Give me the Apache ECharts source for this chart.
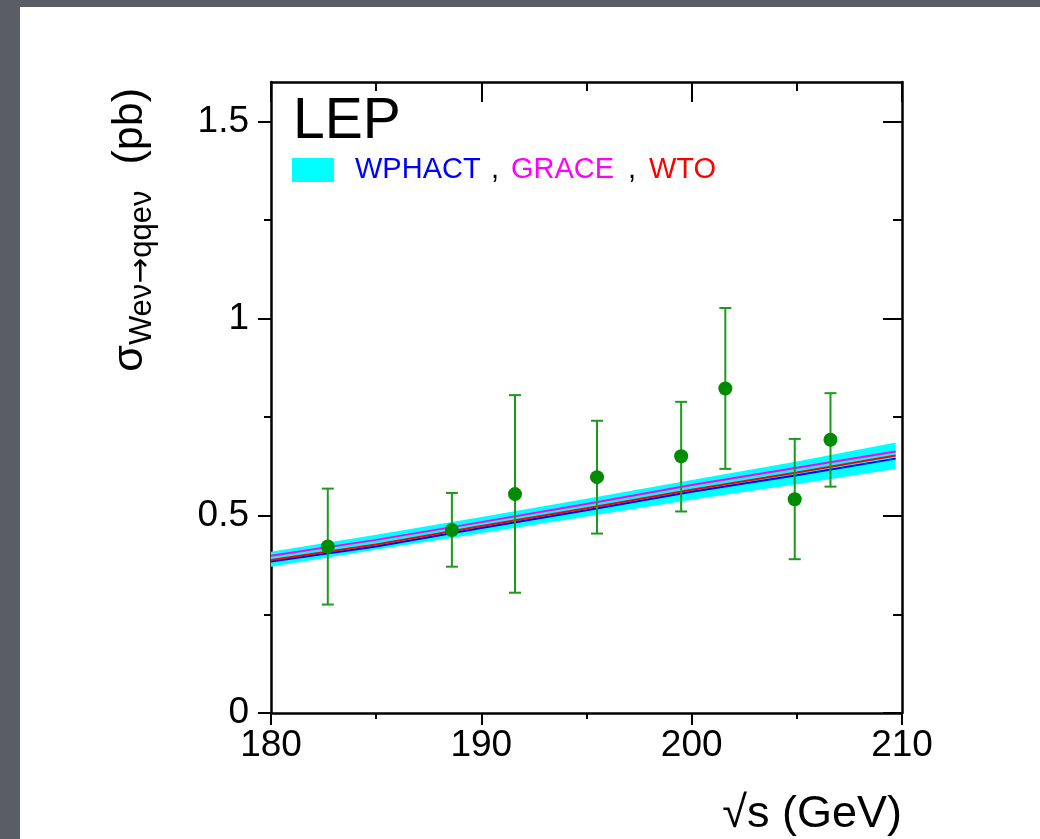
<!DOCTYPE html>
<html>
<head>
<meta charset="utf-8">
<script src="https://cdn.jsdelivr.net/npm/echarts@6/dist/echarts.min.js"></script>
<style>
  html, body { margin: 0; padding: 0; width: 1040px; height: 839px; overflow: hidden; background: #595d66; }
  #chart { position: absolute; left: 20px; top: 7px; width: 1020px; height: 832px; }
</style>
</head>
<body>
<div id="chart"></div>
<script>
// ---- data ----
const xTicks = [180, 190, 200, 210];
const yMajorTicks = [0, 0.5, 1, 1.5];
const yMinorTicks = [0.25, 0.75, 1.25];

// measured points (sqrt(s) in GeV, cross section in pb)
const dataEnergy = [182.7, 188.6, 191.6, 195.5, 199.5, 201.6, 204.9, 206.6];
const dataValue  = [0.422, 0.464, 0.555, 0.598, 0.651, 0.823, 0.542, 0.693];
const dataHigh   = [0.569, 0.558, 0.806, 0.741, 0.789, 1.027, 0.695, 0.811];
const dataLow    = [0.275, 0.371, 0.305, 0.455, 0.511, 0.619, 0.390, 0.574];

// theory predictions
const theoryEnergy = [180, 185, 190, 195, 200, 205, 209.7];
const bandHigh     = [0.409, 0.452, 0.497, 0.543, 0.591, 0.638, 0.686];
const bandLow      = [0.371, 0.414, 0.456, 0.498, 0.541, 0.580, 0.619];
const wphact       = [0.384, 0.422, 0.469, 0.514, 0.561, 0.603, 0.645];
const wto          = [0.388, 0.427, 0.474, 0.519, 0.566, 0.610, 0.653];
const grace        = [0.399, 0.439, 0.484, 0.530, 0.578, 0.622, 0.663];

// ---- chart ----
const FONT = 'Liberation Sans, Arial, Helvetica, sans-serif';
const chart = echarts.init(document.getElementById('chart'), null, { renderer: 'canvas' });

const pairs = (xs, ys) => xs.map((x, i) => [x, ys[i]]);
const lineBase = { color: '#000', width: 2.5 };
const tickStyle = { color: '#000', width: 2 };

const xCommon = { type: 'value', min: 180, max: 210, interval: 10, splitLine: { show: false } };
const yCommon = { type: 'value', min: 0, max: 1.6, splitLine: { show: false } };

const option = {
  backgroundColor: '#ffffff',
  animation: false,
  grid: { left: 251, right: 138, top: 75, bottom: 126, containLabel: false },
  xAxis: [
    Object.assign({}, xCommon, {
      position: 'bottom',
      axisLine: { show: true, onZero: false, lineStyle: lineBase },
      axisTick: { show: true, inside: false, length: 12, lineStyle: tickStyle },
      minorTick: { show: true, splitNumber: 2, length: 6, lineStyle: tickStyle },
      axisLabel: { show: true, margin: 14, fontFamily: FONT, fontSize: 37, color: '#000',
                   formatter: v => String(v) }
    }),
    Object.assign({}, xCommon, {
      position: 'top',
      axisLine: { show: true, onZero: false, lineStyle: lineBase },
      axisTick: { show: true, inside: true, length: 20, lineStyle: tickStyle },
      minorTick: { show: true, splitNumber: 2, length: 9, lineStyle: tickStyle },
      axisLabel: { show: false }
    })
  ],
  yAxis: [
    Object.assign({}, yCommon, {
      position: 'left',
      axisLine: { show: true, onZero: false, lineStyle: lineBase },
      axisTick: { show: true, inside: false, length: 13, customValues: yMajorTicks, lineStyle: tickStyle },
      axisLabel: { show: true, margin: 22, customValues: yMajorTicks, fontFamily: FONT, fontSize: 37, color: '#000' }
    }),
    Object.assign({}, yCommon, {
      position: 'left',
      axisLine: { show: false, onZero: false },
      axisTick: { show: true, inside: false, length: 7, customValues: yMinorTicks, lineStyle: tickStyle },
      axisLabel: { show: false }
    }),
    Object.assign({}, yCommon, {
      position: 'right',
      axisLine: { show: true, onZero: false, lineStyle: lineBase },
      axisTick: { show: true, inside: true, length: 19, customValues: yMajorTicks, lineStyle: tickStyle },
      axisLabel: { show: false }
    }),
    Object.assign({}, yCommon, {
      position: 'right',
      axisLine: { show: false, onZero: false },
      axisTick: { show: true, inside: true, length: 9, customValues: yMinorTicks, lineStyle: tickStyle },
      axisLabel: { show: false }
    })
  ],
  series: [
    {
      name: 'band',
      type: 'custom',
      xAxisIndex: 0, yAxisIndex: 0,
      z: 1,
      silent: true,
      data: [[theoryEnergy[0], bandLow[0]]],
      renderItem: function (params, api) {
        const pts = [];
        for (let i = 0; i < theoryEnergy.length; i++) pts.push(api.coord([theoryEnergy[i], bandHigh[i]]));
        for (let i = theoryEnergy.length - 1; i >= 0; i--) pts.push(api.coord([theoryEnergy[i], bandLow[i]]));
        return { type: 'polygon', shape: { points: pts }, style: { fill: '#00ffff', stroke: null } };
      }
    },
    { name: 'WPHACT', type: 'line', z: 2, data: pairs(theoryEnergy, wphact), showSymbol: false, symbol: 'none',
      lineStyle: { color: '#0000ff', width: 2 } },
    { name: 'WTO', type: 'line', z: 3, data: pairs(theoryEnergy, wto), showSymbol: false, symbol: 'none',
      lineStyle: { color: '#ff0000', width: 2 } },
    { name: 'GRACE', type: 'line', z: 3, data: pairs(theoryEnergy, grace), showSymbol: false, symbol: 'none',
      lineStyle: { color: '#ff00ff', width: 2 } },
    {
      name: 'errors',
      type: 'custom',
      z: 4,
      data: dataEnergy.map((e, i) => [e, dataLow[i], dataHigh[i]]),
      encode: { x: 0, y: [1, 2] },
      renderItem: function (params, api) {
        const x = api.value(0);
        const lo = api.coord([x, api.value(1)]);
        const hi = api.coord([x, api.value(2)]);
        const hw = 6;
        const st = { stroke: '#1c9a1c', lineWidth: 2 };
        return {
          type: 'group',
          children: [
            { type: 'line', shape: { x1: lo[0], y1: lo[1], x2: hi[0], y2: hi[1] }, style: st },
            { type: 'line', shape: { x1: lo[0] - hw, y1: lo[1], x2: lo[0] + hw, y2: lo[1] }, style: st },
            { type: 'line', shape: { x1: hi[0] - hw, y1: hi[1], x2: hi[0] + hw, y2: hi[1] }, style: st }
          ]
        };
      }
    },
    { name: 'LEP data', type: 'scatter', z: 5, data: pairs(dataEnergy, dataValue),
      symbol: 'circle', symbolSize: 14, itemStyle: { color: '#008c00', opacity: 1 } }
  ],
  graphic: [
    { type: 'text', x: 273, y: 115.5, z: 10,
      style: { text: 'LEP', fontFamily: FONT, fontSize: 57, fill: '#000', textAlign: 'left', textVerticalAlign: 'middle' } },
    { type: 'rect', x: 272, y: 151, z: 10, shape: { width: 42, height: 24 }, style: { fill: '#00ffff' } },
    { type: 'text', x: 335, y: 163, z: 10,
      style: { text: 'WPHACT', fontFamily: FONT, fontSize: 29, fill: '#0000ff', textAlign: 'left', textVerticalAlign: 'middle' } },
    { type: 'text', x: 471, y: 163, z: 10,
      style: { text: ',', fontFamily: FONT, fontSize: 29, fill: '#000', textAlign: 'left', textVerticalAlign: 'middle' } },
    { type: 'text', x: 491, y: 163, z: 10,
      style: { text: 'GRACE', fontFamily: FONT, fontSize: 29, fill: '#ff00ff', textAlign: 'left', textVerticalAlign: 'middle' } },
    { type: 'text', x: 608, y: 163, z: 10,
      style: { text: ',', fontFamily: FONT, fontSize: 29, fill: '#000', textAlign: 'left', textVerticalAlign: 'middle' } },
    { type: 'text', x: 629, y: 163, z: 10,
      style: { text: 'WTO', fontFamily: FONT, fontSize: 29, fill: '#ff0000', textAlign: 'left', textVerticalAlign: 'middle' } },
    { type: 'text', x: 882, y: 808, z: 10,
      style: { text: '√s (GeV)', fontFamily: FONT, fontSize: 45, fill: '#000', textAlign: 'right', textVerticalAlign: 'middle' } },
    { type: 'text', x: 110, y: 81, rotation: Math.PI / 2, z: 10,
      style: {
        text: '{s|σ}{sub|Weν}{arr|→}{sub|qqeν}{p|(pb)}',
        textAlign: 'right', textVerticalAlign: 'middle',
        fontFamily: FONT, fill: '#000',
        rich: {
          s: { fontFamily: FONT, fontSize: 43, fill: '#000' },
          p: { fontFamily: FONT, fontSize: 43, fill: '#000', padding: [0, 0, 0, 26] },
          sub: { fontFamily: FONT, fontSize: 31, fill: '#000', padding: [24, 0, 0, 0] },
          arr: { fontFamily: 'DejaVu Sans', fontSize: 31, fill: '#000', padding: [24, 0, 0, 0] }
        }
      } }
  ]
};
chart.setOption(option);
</script>
</body>
</html>
